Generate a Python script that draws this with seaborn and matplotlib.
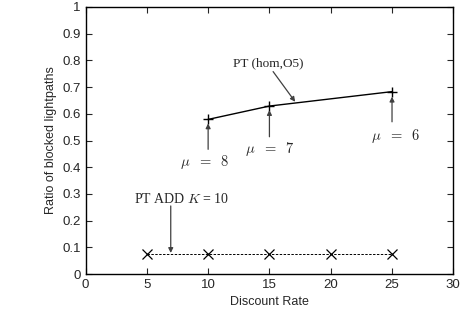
import matplotlib
matplotlib.use("Agg")
import matplotlib.pyplot as plt
import seaborn as sns
import pandas as pd

# PT (hom,O5)
pt_rate = [10, 15, 25]
pt_ratio = [0.579, 0.629, 0.683]
# PT ADD K=10
add_rate = [5, 10, 15, 20, 25]
add_ratio = [0.075, 0.075, 0.075, 0.075, 0.075]

sns.set_style("ticks")
plt.rcParams['font.family'] = ['Liberation Sans', 'DejaVu Sans']
plt.rcParams['mathtext.fontset'] = 'cm'

df_pt = pd.DataFrame({'rate': pt_rate, 'ratio': pt_ratio})
df_add = pd.DataFrame({'rate': add_rate, 'ratio': add_ratio})

fig, ax = plt.subplots(figsize=(4.7, 3.31), dpi=100)
fig.subplots_adjust(left=0.182, right=0.9645, top=0.979, bottom=0.172)

sns.lineplot(data=df_pt, x='rate', y='ratio', marker='+', markersize=7,
             color='black', markeredgecolor='black', linewidth=1,
             markeredgewidth=1, ax=ax)
sns.lineplot(data=df_add, x='rate', y='ratio', marker='x', markersize=7,
             color='black', markeredgecolor='black', linewidth=0.7,
             linestyle=(0, (2.5, 1.5)), markeredgewidth=0.9, ax=ax)

ax.set_xlim(0, 30)
ax.set_ylim(0, 1)
ax.set_xticks(range(0, 31, 5))
ax.set_yticks([i / 10 for i in range(11)])
ax.set_yticklabels(['0'] + [f'{i/10:.1f}' for i in range(1, 10)] + ['1'])
ax.tick_params(direction='in', top=True, right=True, labelsize=9.5, length=4, width=0.8)
for s in ax.spines.values():
    s.set_linewidth(1)
    s.set_color('black')
ax.set_xlabel('Discount Rate', fontsize=9)
ax.set_ylabel('Ratio of blocked lightpaths', fontsize=9)

arr = dict(arrowstyle='-|>', color='0.25', lw=0.9, mutation_scale=7,
           shrinkA=0, shrinkB=0)
serif = ['Liberation Serif', 'DejaVu Serif']

ax.annotate('', xy=(17.1, 0.645), xytext=(15.3, 0.758), arrowprops=arr)
ax.text(14.9, 0.789, 'PT (hom,O5)', ha='center', va='center', fontsize=9.5, family=serif)

ax.annotate('', xy=(10, 0.564), xytext=(10, 0.467), arrowprops=arr)
ax.annotate('', xy=(15, 0.614), xytext=(15, 0.514), arrowprops=arr)
ax.annotate('', xy=(25, 0.664), xytext=(25, 0.570), arrowprops=arr)
ax.text(9.75, 0.42, r'$\mu\ \;=\ \;8$', ha='center', va='center', fontsize=10.5)
ax.text(15.05, 0.47, r'$\mu\ \;=\ \;7$', ha='center', va='center', fontsize=10.5)
ax.text(25.3, 0.517, r'$\mu\ \;=\ \;6$', ha='center', va='center', fontsize=10.5)

ax.annotate('', xy=(6.95, 0.079), xytext=(6.95, 0.255), arrowprops=arr)
ax.text(7.8, 0.28, r'PT ADD $K$ = 10', ha='center', va='center', fontsize=10, family=serif)

fig.savefig('out.png', dpi=100)
